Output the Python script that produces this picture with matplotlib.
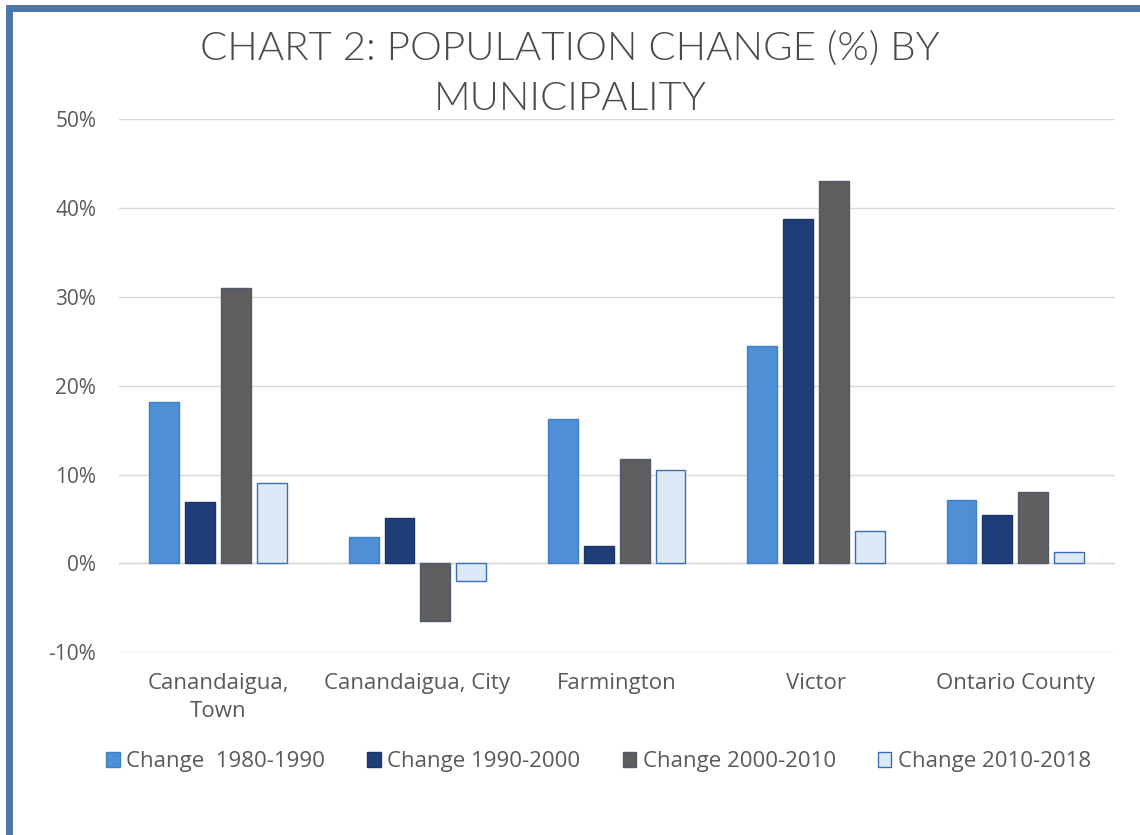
import numpy as np
import matplotlib
matplotlib.use("Agg")
import matplotlib.pyplot as plt
from matplotlib.patches import Rectangle
from matplotlib.ticker import FuncFormatter

plt.rcParams['font.family'] = ['Open Sans', 'DejaVu Sans']

municipalities = ["Canandaigua,\nTown", "Canandaigua, City", "Farmington", "Victor", "Ontario County"]
series_names = ["Change  1980-1990", "Change 1990-2000", "Change 2000-2010", "Change 2010-2018"]
change_1980_1990 = [18.2, 3.0, 16.3, 24.5, 7.1]
change_1990_2000 = [6.9, 5.1, 2.0, 38.8, 5.4]
change_2000_2010 = [31.0, -6.5, 11.7, 43.1, 8.0]
change_2010_2018 = [9.0, -2.0, 10.5, 3.6, 1.3]

series = [change_1980_1990, change_1990_2000, change_2000_2010, change_2010_2018]
fills = ["#4f8fd5", "#1f3d78", "#5e5e5e", "#dde9f6"]
edges = ["#3f7fc8", "#1a3568", "#4f5a6a", "#3a6fb5"]
text_grey = "#595959"

fig = plt.figure(figsize=(11.4, 8.35), dpi=100)
ax = fig.add_axes([0.104, 0.219, 0.874, 0.638])

x = np.arange(len(municipalities))
width = 0.15
step = 0.18
for i, vals in enumerate(series):
    ax.bar(x + (i - 1.5) * step, vals, width, color=fills[i], edgecolor=edges[i],
           linewidth=1.0, label=series_names[i], zorder=3)

ax.set_ylim(-10, 50)
ax.set_xlim(-0.5, len(municipalities) - 0.5)
ax.set_yticks(range(-10, 51, 10))
ax.yaxis.set_major_formatter(FuncFormatter(lambda v, p: "%d%%" % v))
ax.grid(axis='y', color="#d9d9d9", linewidth=1.0, zorder=0)
ax.axhline(0, color="#d9d9d9", linewidth=1.0, zorder=1)
for s in ax.spines.values():
    s.set_visible(False)
ax.tick_params(axis='y', length=0, labelsize=15, labelcolor=text_grey, pad=16)
ax.set_xticks(x)
ax.set_xticklabels(municipalities, linespacing=1.45)
ax.tick_params(axis='x', length=0, labelsize=16, labelcolor=text_grey, pad=15)

fig.text(0.5, 0.942, "CHART 2: POPULATION CHANGE (%) BY", ha='center', va='center',
         fontsize=29, color="#4a4a4a", fontfamily=['Lato', 'DejaVu Sans'], fontweight=300)
fig.text(0.5, 0.881, "MUNICIPALITY", ha='center', va='center',
         fontsize=29, color="#4a4a4a", fontfamily=['Lato', 'DejaVu Sans'], fontweight=300)

leg = ax.legend(loc='center', bbox_to_anchor=(0.482, -0.206), ncol=4, frameon=False,
                fontsize=16, handlelength=0.6, handleheight=0.6, handletextpad=0.3,
                columnspacing=1.9)
for t in leg.get_texts():
    t.set_color(text_grey)

# blue frame around the chart
fig.patches.append(Rectangle((0.008, -0.05), 1.05, 1.04, transform=fig.transFigure,
                             fill=False, edgecolor="#4a76a8", linewidth=5))

fig.savefig("out.png", dpi=100)
